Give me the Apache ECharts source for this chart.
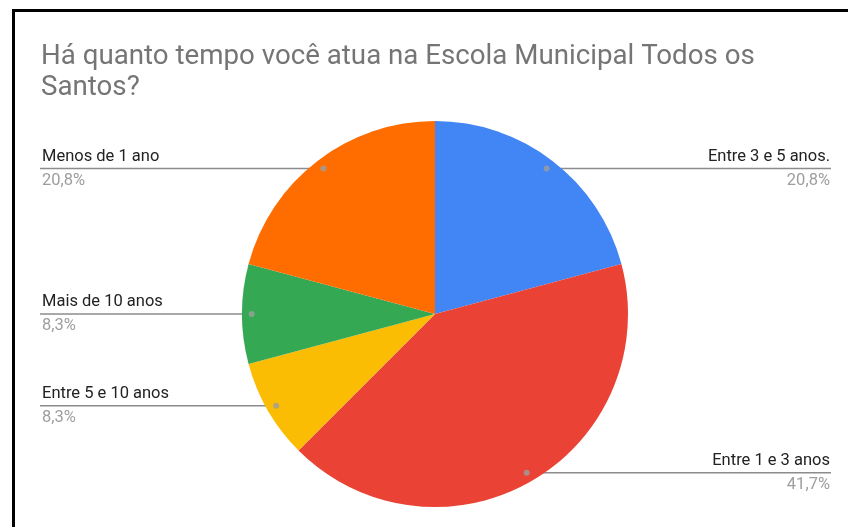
<!DOCTYPE html>
<html>
<head>
<meta charset="utf-8">
<script src="https://cdn.jsdelivr.net/npm/echarts@6/dist/echarts.min.js"></script>
<style>
  html, body { margin: 0; padding: 0; background: #fff; }
  #chart { position: absolute; left: 0; top: 0; width: 848px; height: 527px; }
  #frame { position: absolute; left: 12px; top: 9px; width: 900px; height: 600px;
           border-left: 3px solid #000; border-top: 3px solid #000; pointer-events: none; }
</style>
</head>
<body>
<div id="chart"></div>
<div id="frame"></div>
<script>
var titleText = 'Há quanto tempo você atua na Escola Municipal Todos os\nSantos?'
var categories = ['Entre 3 e 5 anos.', 'Entre 1 e 3 anos', 'Entre 5 e 10 anos', 'Mais de 10 anos', 'Menos de 1 ano']
var counts = [5, 10, 2, 2, 5]
var colors = ['#4285f4', '#ea4335', '#fbbc04', '#34a853', '#ff6d01']

var total = counts.reduce(function (a, b) { return a + b }, 0)
var mids = []
var acc = 0
counts.forEach(function (v) {
	mids.push(acc + v / 2)
	acc += v
})

var center = [435, 314]
var radius = 193

var myChart = echarts.init(document.getElementById('chart'))

// right-side slices get their label on the right edge
var labelData = categories.map(function (name, i) {
	var right = mids[i] < total / 2
	return {
		name: name,
		value: counts[i],
		label: {
			edgeDistance: right ? 18 : 42,
			align: right ? 'right' : 'left'
		}
	}
})

var options = {
	animation: false,
	color: colors,
	title: {
		text: titleText,
		left: 41,
		top: 42,
		padding: 0,
		textStyle: {
			fontFamily: 'Roboto',
			fontSize: 27.7,
			fontWeight: 'normal',
			color: '#757575',
			lineHeight: 31
		}
	},
	polar: { center: center, radius: radius },
	angleAxis: { type: 'value', min: 0, max: total, startAngle: 90, clockwise: true, show: false },
	radiusAxis: { type: 'value', min: 0, max: 1, show: false },
	series: [
		{
			type: 'pie',
			center: center,
			radius: radius,
			startAngle: 90,
			clockwise: true,
			silent: true,
			label: { show: false },
			labelLine: { show: false },
			itemStyle: { borderWidth: 0 },
			data: categories.map(function (name, i) {
				return { name: name, value: counts[i] }
			})
		},
		{
			// invisible ring only used to place the labels and their lines
			type: 'pie',
			center: center,
			radius: radius * 0.95,
			startAngle: 90,
			clockwise: true,
			silent: true,
			avoidLabelOverlap: false,
			itemStyle: { color: 'rgba(0,0,0,0)', borderWidth: 0 },
			label: {
				show: true,
				position: 'outside',
				alignTo: 'edge',
				fontFamily: 'Roboto',
				formatter: function (p) {
					return '{name|' + p.name + '}\n{pct|' + p.percent.toFixed(1).replace('.', ',') + '%}'
				},
				rich: {
					name: { fontFamily: 'Roboto', fontSize: 16.5, color: '#222222', lineHeight: 24 },
					pct: { fontFamily: 'Roboto', fontSize: 16.5, color: '#9e9e9e', lineHeight: 24 }
				}
			},
			labelLine: {
				show: true,
				length: 0,
				length2: 0,
				lineStyle: { color: '#8c8c8c', width: 1.5 }
			},
			labelLayout: function (params) {
				var points = params.labelLinePoints
				if (!points) return {}
				var isLeft = params.labelRect.x < myChart.getWidth() / 2
				points[2][0] = isLeft ? params.labelRect.x - 2 : params.labelRect.x + params.labelRect.width + 1
				return { labelLinePoints: points }
			},
			data: labelData
		},
		{
			type: 'scatter',
			coordinateSystem: 'polar',
			silent: true,
			symbolSize: 6,
			itemStyle: { color: '#9e9e9e' },
			z: 5,
			data: mids.map(function (m) { return [0.95, m] })
		}
	]
}

myChart.setOption(options)
</script>
</body>
</html>
